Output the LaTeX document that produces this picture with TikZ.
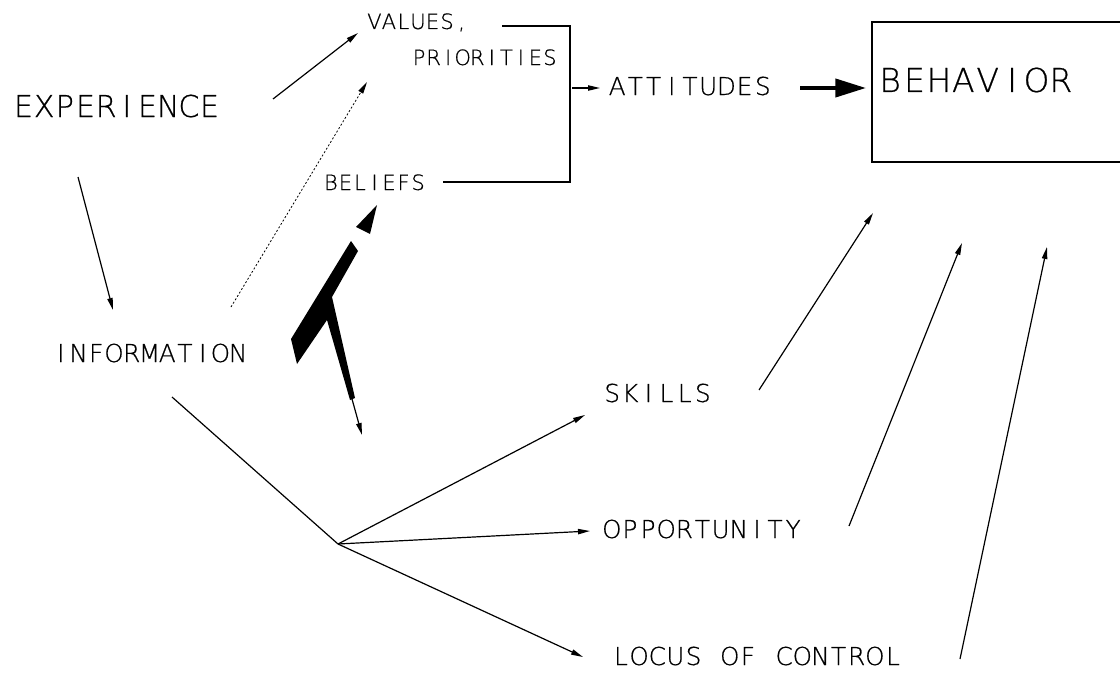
\documentclass[tikz,border=0pt]{standalone}
\usepackage{fontspec}
\setmainfont{DejaVu Sans ExtraLight}[FakeBold=0.6]
\usetikzlibrary{arrows.meta}
\newcommand{\capsz}[1]{\fontsize{#1pt}{#1pt}\selectfont}
% plotter-style lettering: every character sits in a cell of fixed width
\ExplSyntaxOn
\NewDocumentCommand{\cells}{m m}
  { \tl_map_inline:nn {#2} { \makebox[#1][c]{##1} } }
\ExplSyntaxOff
\begin{document}
\begin{tikzpicture}[x=0.75pt,y=-0.75pt,
  lbl/.style={inner sep=0pt, anchor=base},
  thinline/.style={line width=0.9pt},
  arr/.style={thinline, -{Triangle[length=9pt,width=4pt]}},
  dotline/.style={line width=0.6pt, dash pattern=on 1.5pt off 1.5pt, -{Triangle[length=9pt,width=4pt]}},
  fatarr/.style={line width=3pt, -{Triangle[length=23pt,width=13.5pt]}}]
\useasboundingbox (0,0) rectangle (1120,674);

% labels
\node[lbl, font=\capsz{22.6}] (exp) at (116.5,117) {\cells{15.5pt}{EXPERIENCE}};
\node[lbl, font=\capsz{18.5}] (inf) at (149.5,362) {\cells{13.3pt}{INFORMATION}};
\node[lbl, font=\capsz{15.8}] (val) at (418,29)    {\cells{10.9pt}{VALUES,}};
\node[lbl, font=\capsz{15.8}] (pri) at (484.5,65)  {\cells{10.9pt}{PRIORITIES}};
\node[lbl, font=\capsz{15.8}] (bel) at (374.5,190) {\cells{10.9pt}{BELIEFS}};
\node[lbl, font=\capsz{18.5}] (att) at (690,95)    {\cells{13.65pt}{ATTITUDES}};
\node[lbl, font=\capsz{24.7}] (beh) at (975.5,92)  {\cells{18.3pt}{BEHAVIOR}};
\node[lbl, font=\capsz{18.5}] (ski) at (657.5,402) {\cells{13.6pt}{SKILLS}};
\node[lbl, font=\capsz{18.5}] (opp) at (702.5,538) {\cells{13.6pt}{OPPORTUNITY}};
\node[lbl, font=\capsz{18.5}] (loc) at (757,665)   {\cells{13.6pt}{LOCUS~OF~CONTROL}};

% bracket joining values and beliefs
\coordinate (brA) at (502,26);
\coordinate (brB) at (570,26);
\coordinate (brC) at (570,182);
\coordinate (brD) at (443,182);
\draw[thinline] (brA) -- (brB) -- (brC) -- (brD);

% behaviour box (open to the right)
\coordinate (bxA) at (1121,22);
\coordinate (bxB) at (872,22);
\coordinate (bxC) at (872,162);
\coordinate (bxD) at (1121,162);
\draw[thinline] (bxA) -- (bxB) -- (bxC) -- (bxD);

% arrow end points
\coordinate (e1) at (273,99);   \coordinate (v1) at (358,33);
\coordinate (e2) at (78,177);   \coordinate (i1) at (113,310);
\coordinate (i2) at (231,307);  \coordinate (v2) at (367,82);
\coordinate (b1) at (572,88);   \coordinate (a1) at (600,88);
\coordinate (a2) at (800,88);   \coordinate (h1) at (866,88);
\coordinate (i3) at (172,397);  \coordinate (jn) at (338,544);
\coordinate (s1) at (585,415);
\coordinate (o1) at (590,531);
\coordinate (l1) at (583,657);
\coordinate (s2) at (759,390);  \coordinate (h2) at (873,213);
\coordinate (o2) at (849,526);  \coordinate (h3) at (962,243);
\coordinate (l2) at (960,659);  \coordinate (h4) at (1047,247);
\coordinate (k1) at (352,399);  \coordinate (k2) at (362,435);

\draw[arr] (e1) -- (v1);
\draw[arr] (e2) -- (i1);
\draw[dotline] (i2) -- (v2);
\draw[arr] (b1) -- (a1);
\draw[fatarr] (a2) -- (h1);
\draw[thinline] (i3) -- (jn);
\draw[arr] (jn) -- (s1);
\draw[arr] (jn) -- (o1);
\draw[arr] (jn) -- (l1);
\draw[arr] (s2) -- (h2);
\draw[arr] (o2) -- (h3);
\draw[arr] (l2) -- (h4);

% heavy forked stroke with its loose head
\fill (351,241) -- (358,251) -- (332,297) -- (355,398) -- (350,400)
      -- (327,320) -- (297,364) -- (291,339) -- cycle;
\draw[arr] (k1) -- (k2);
\fill (377,205) -- (356,227) -- (370,234) -- cycle;
\end{tikzpicture}
\end{document}
